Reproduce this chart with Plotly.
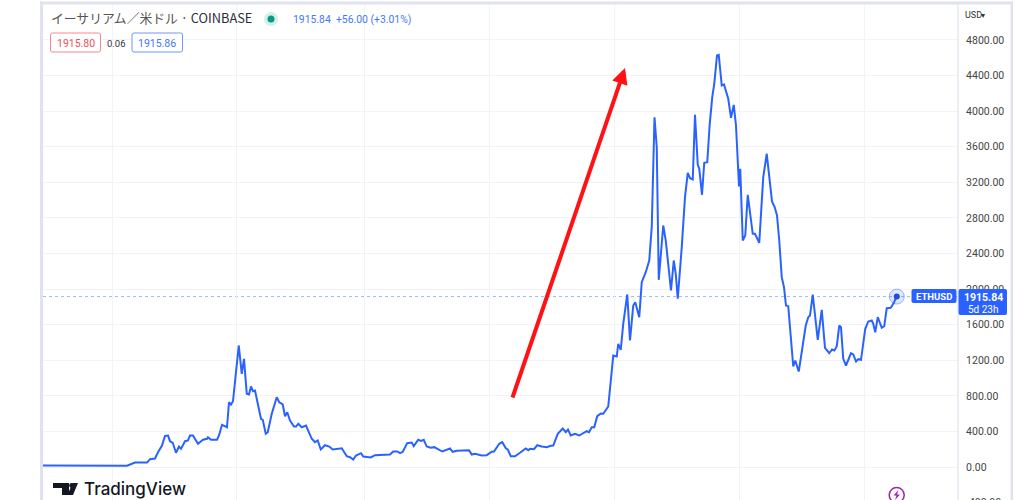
import plotly.graph_objects as go

years = [2016.448,2016.984,2017.12,2017.184,2017.28,2017.304,2017.344,2017.368,2017.40,2017.424,2017.448,2017.464,2017.486,2017.512,2017.536,2017.552,2017.584,2017.608,2017.624,2017.648,2017.688,2017.728,2017.76,2017.768,2017.792,2017.84,2017.856,2017.88,2017.92,2017.936,2017.952,2017.968,
2018.014,2018.038,2018.056,2018.078,2018.096,2018.112,2018.128,2018.144,2018.192,2018.206,2018.23,2018.246,2018.278,2018.318,2018.338,2018.366,2018.384,2018.402,2018.424,2018.456,2018.472,2018.49,2018.518,2018.552,2018.598,2018.624,2018.646,2018.67,2018.704,2018.738,2018.766,2018.838,2018.878,2018.904,2018.93,2018.952,2018.992,
2019.01,2019.07,2019.104,2019.224,2019.25,2019.282,2019.304,2019.326,2019.362,2019.398,2019.414,2019.45,2019.472,2019.494,2019.518,2019.55,2019.578,2019.642,2019.704,2019.726,2019.758,2019.856,2019.878,2019.904,2019.958,2019.998,
2020.038,2020.056,2020.098,2020.122,2020.152,2020.166,2020.19,2020.224,2020.264,2020.31,2020.33,2020.344,2020.376,2020.402,2020.438,2020.478,2020.51,2020.53,2020.566,2020.606,2020.63,2020.648,2020.67,2020.704,2020.738,2020.798,2020.816,2020.838,2020.858,2020.882,2020.91,2020.93,2020.97,2020.99,
2021.0,2021.01,2021.038,2021.05,2021.07,2021.09,2021.122,2021.144,2021.17,2021.186,2021.218,2021.238,2021.27,2021.298,2021.318,2021.34,2021.358,2021.374,2021.41,2021.43,2021.472,2021.494,2021.51,2021.526,2021.558,2021.584,2021.606,2021.624,2021.646,2021.664,2021.686,2021.698,2021.72,2021.738,2021.762,2021.782,2021.802,2021.818,2021.84,2021.854,2021.878,2021.896,2021.93,2021.952,2021.974,2021.992,
2022.016,2022.026,2022.046,2022.066,2022.086,2022.104,2022.126,2022.144,2022.178,2022.21,2022.238,2022.28,2022.302,2022.32,2022.338,2022.358,2022.376,2022.392,2022.41,2022.45,2022.466,2022.494,2022.522,2022.55,2022.57,2022.584,2022.606,2022.624,2022.646,2022.678,2022.704,2022.738,2022.76,2022.778,2022.798,2022.818,2022.832,2022.85,2022.872,2022.912,2022.93,2022.952,2022.97,2022.992,
2023.026,2023.05,2023.078,2023.09,2023.106,2023.126,2023.158,2023.178,2023.198,2023.23,2023.25,2023.278]

prices = [17,9,15,50,50,88,95,166,241,350,354,290,272,160,230,204,290,298,354,354,261,306,317,335,306,306,354,474,447,728,703,740,
1366,1047,1216,823,815,905,852,860,542,530,373,391,598,785,728,703,571,616,523,455,455,486,447,466,317,279,298,197,245,230,197,211,121,110,84,129,155,
118,107,133,140,174,174,155,171,268,275,234,306,294,306,230,216,223,174,208,171,182,189,140,148,129,133,
171,174,261,279,208,197,121,121,160,208,189,204,200,245,230,223,238,241,373,433,391,421,354,373,354,402,391,447,447,571,601,598,680,972,
1085,1253,1242,1385,1317,1610,1939,1422,1815,1853,1684,2077,2190,2321,2696,3932,3595,2104,2715,2546,1984,2321,2172,1891,2471,3033,3307,3247,3232,3959,3400,3352,3060,3420,3426,3858,4157,4307,4626,4633,4288,4300,4139,3925,4071,3839,
3153,3352,2546,2602,3060,2883,2621,2621,2520,3258,3521,2985,2920,2827,2546,2134,2021,1815,1808,1130,1197,1073,1310,1590,1684,1703,1939,1722,1430,1767,1340,1279,1321,1310,1355,1590,1571,1216,1141,1279,1265,1186,1212,1205,
1553,1636,1647,1610,1515,1684,1565,1583,1785,1790,1834,1916]

price_ticks = [0,400,800,1200,1600,2000,2400,2800,3200,3600,4000,4400,4800]
year_grid = [2017,2017.992,2019.016,2020.016,2021.016,2022.016,2023.016]
last_price = 1915.84

BLUE = "#2962ff"
W, H = 1024, 500
L, R, T, B = 43, 66, 5, 0
FONT = "Roboto"

def X(px): return (px - L) / (W - L - R)
def Y(py): return (H - B - py) / (H - T - B)

def rrect(x0, y0, x1, y1, r=2):
    return (f"M{X(x0+r)},{Y(y0)} L{X(x1-r)},{Y(y0)} Q{X(x1)},{Y(y0)} {X(x1)},{Y(y0+r)} "
            f"L{X(x1)},{Y(y1-r)} Q{X(x1)},{Y(y1)} {X(x1-r)},{Y(y1)} L{X(x0+r)},{Y(y1)} "
            f"Q{X(x0)},{Y(y1)} {X(x0)},{Y(y1-r)} L{X(x0)},{Y(y0+r)} Q{X(x0)},{Y(y0)} {X(x0+r)},{Y(y0)} Z")

def poly(pts):
    return "M" + " L".join(f"{X(a)},{Y(b)}" for a, b in pts) + " Z"

def pshape(path, fill="rgba(0,0,0,0)", line="rgba(0,0,0,0)", w=0):
    return dict(type="path", xref="paper", yref="paper", path=path, fillcolor=fill,
                line=dict(color=line, width=w), layer="above")

def circle(cx, cy, r, fill="rgba(0,0,0,0)", line="rgba(0,0,0,0)", w=0):
    return dict(type="circle", xref="paper", yref="paper", x0=X(cx-r), x1=X(cx+r),
                y0=Y(cy+r), y1=Y(cy-r), fillcolor=fill, line=dict(color=line, width=w), layer="above")

def label(px, py, text, size=10, color="#333", anchor="left", font=FONT, weight="normal"):
    return dict(xref="paper", yref="paper", x=X(px), y=Y(py), text=text, showarrow=False,
                xanchor=anchor, yanchor="middle", font=dict(size=size, color=color, family=font, weight=weight),
                borderpad=0, borderwidth=0)

fig = go.Figure()
fig.add_trace(go.Scatter(x=years, y=prices, mode="lines", line=dict(color=BLUE, width=2),
                         hoverinfo="skip", showlegend=False))
fig.add_trace(go.Scatter(x=years[-1:], y=[last_price], mode="markers",
                         marker=dict(size=15, color="rgba(41,98,255,0.15)",
                                     line=dict(color="rgba(41,98,255,0.45)", width=1)),
                         hoverinfo="skip", showlegend=False))
fig.add_trace(go.Scatter(x=years[-1:], y=[last_price], mode="markers",
                         marker=dict(size=6, color="#1f4fd8"),
                         hoverinfo="skip", showlegend=False))

BAND = "#e0e3ef"
shapes = [
    dict(type="rect", xref="paper", yref="paper", x0=X(40), x1=X(43), y0=0, y1=Y(1.5), fillcolor=BAND, line_width=0, layer="above"),
    dict(type="rect", xref="paper", yref="paper", x0=X(40), x1=X(1013), y0=Y(4.5), y1=Y(1.5), fillcolor=BAND, line_width=0, layer="above"),
    dict(type="rect", xref="paper", yref="paper", x0=X(1010.5), x1=X(1013), y0=0, y1=Y(1.5), fillcolor=BAND, line_width=0, layer="above"),
    dict(type="line", xref="paper", yref="paper", x0=X(958), x1=X(958), y0=0, y1=Y(4.5), line=dict(color="#e6e8ef", width=1.5), layer="above"),
    dict(type="line", xref="paper", yref="y", x0=0, x1=1, y0=last_price, y1=last_price,
         line=dict(color="rgba(41,98,255,0.65)", width=0.7, dash="dot"), layer="below"),
    circle(271, 19, 7, fill="#d5efea"),
    circle(271, 19, 3.5, fill="#089981"),
    pshape(rrect(50.5, 33, 100.5, 52), fill="#ffffff", line="#f7888f", w=1),
    pshape(rrect(132, 33, 182.5, 52), fill="#ffffff", line="#6f96ff", w=1),
    pshape(rrect(911.5, 289, 956.5, 303), fill=BLUE),
    pshape(rrect(958.5, 289, 1007, 315), fill=BLUE),
    pshape(poly([(53, 483), (69, 483), (69, 495), (62, 495), (62, 488), (53, 488)]), fill="#131722"),
    circle(71.6, 485.5, 2.4, fill="#131722"),
    pshape(poly([(78, 483), (73, 495), (67.5, 495), (72.5, 483)]), fill="#131722"),
    circle(896.7, 495, 7.5, line="#9c27b0", w=1.5),
    pshape(poly([(898.5, 490), (893.5, 495.5), (896.5, 495.5), (895, 500), (900, 494.5), (897, 494.5)]), fill="#9c27b0"),
]

annotations = [
    label(51, 18, "<span style='color:#555'>イーサリアム／米ドル</span> · COINBASE", size=12.8, color="#2a2e39", font="Noto Sans CJK JP"),
    label(293, 20, "1915.84  +56.00 (+3.01%)", size=10.4, color="#3f78ff"),
    label(75.5, 43, "1915.80", size=10.5, color="#f0505a", anchor="center"),
    label(116, 43, "0.06", size=9.5, color="#333", anchor="center"),
    label(157, 43, "1915.86", size=10.5, color="#3f78ff", anchor="center"),
    label(965, 15, "USD", size=9, color="#333"),
    label(981, 15, "▾", size=8, color="#333"),
    label(934, 296, "<b>ETHUSD</b>", size=9.5, color="#ffffff", anchor="center"),
    label(983, 297, "<b>1915.84</b>", size=10.5, color="#ffffff", anchor="center"),
    label(983, 309, "5d 23h", size=10, color="#ffffff", anchor="center"),
    label(966, 502, "-400.00", size=10.5, color="#444"),
    label(84, 489, "TradingView", size=17, color="#131722", font="Inter", weight=500),
    dict(xref="paper", yref="paper", x=X(625), y=Y(68), axref="pixel", ayref="pixel",
         ax=512 - 625, ay=399 - 68, text="", showarrow=True, arrowhead=2, arrowsize=0.8,
         arrowwidth=4, arrowcolor="#ff1216", standoff=0),
]

fig.update_layout(
    width=W, height=H, margin=dict(l=L, r=R, t=T, b=B, pad=0),
    paper_bgcolor="#ffffff", plot_bgcolor="#ffffff", showlegend=False,
    shapes=shapes, annotations=annotations,
    xaxis=dict(range=[2016.448, 2023.768], tickmode="array", tickvals=year_grid, showticklabels=False,
               ticks="", showgrid=True, gridcolor="#f2f3f8", gridwidth=1, zeroline=False, showline=False, fixedrange=True),
    yaxis=dict(range=[(500 - 467) / -0.08896, (467 - 5) / 0.08896], side="right", tickmode="array",
               tickvals=price_ticks, tickformat=".2f", ticks="outside", ticklen=5, tickcolor="rgba(0,0,0,0)",
               tickfont=dict(size=10.5, color="#444", family=FONT), showgrid=True, gridcolor="#f2f3f8",
               gridwidth=1, zeroline=False, showline=False, fixedrange=True),
)

fig.write_html("out.html", config=dict(displayModeBar=False),
               post_script="document.body.style.margin='0';document.body.style.overflow='hidden';")
